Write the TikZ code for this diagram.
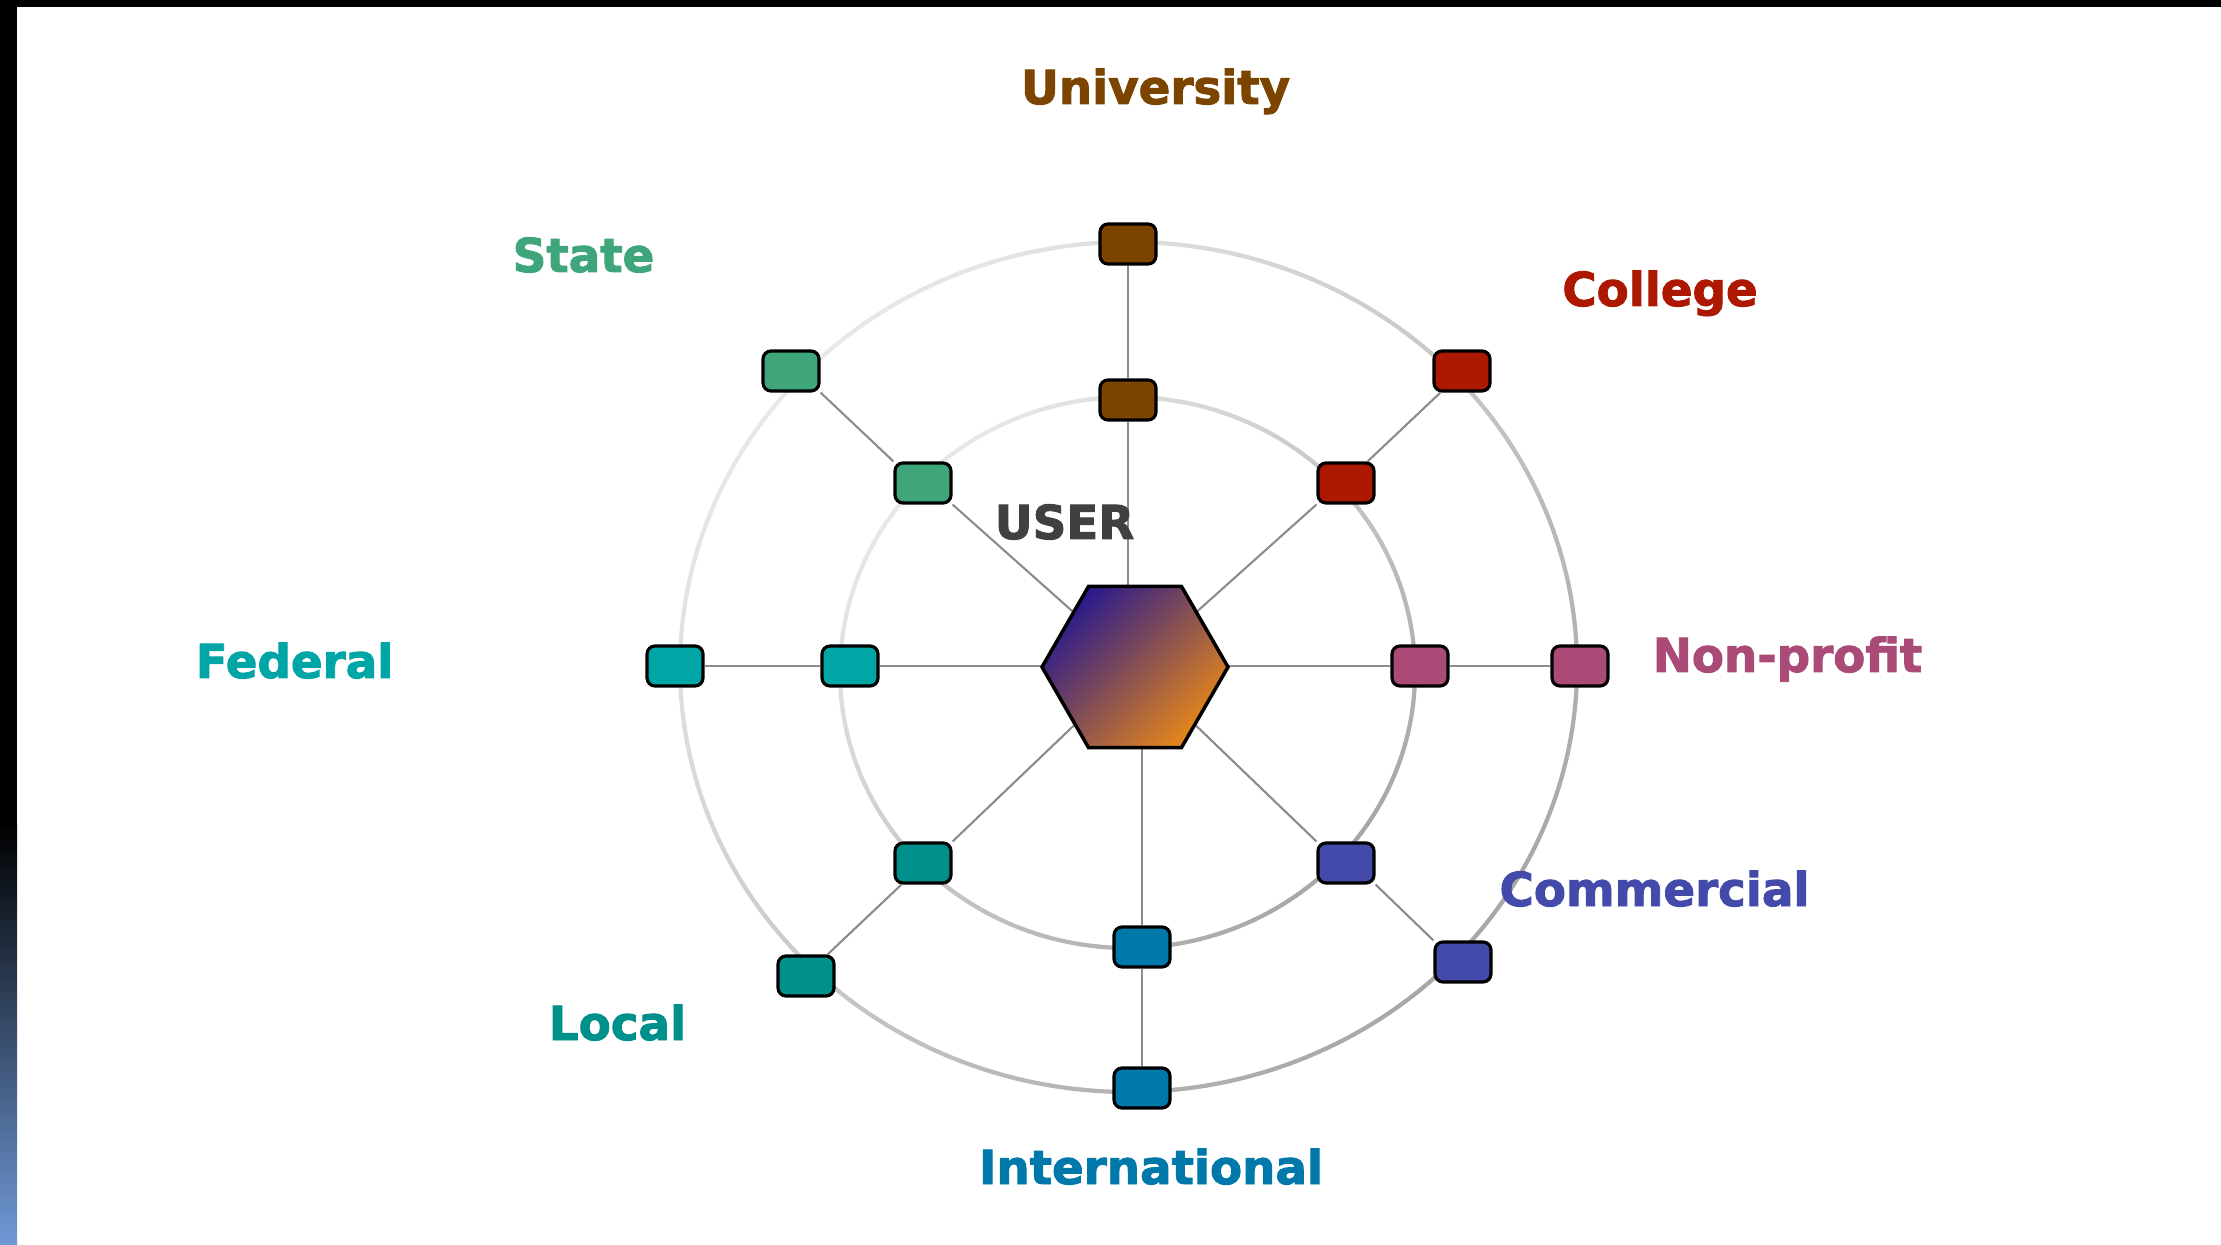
\documentclass[tikz,border=0pt]{standalone}
\usepackage{fontspec}
\setmainfont{DejaVu Sans}[BoldFeatures={FakeBold=2}]
\usetikzlibrary{shapes.geometric,backgrounds}

\definecolor{cUni}{HTML}{7B4500}
\definecolor{cCollege}{HTML}{AD1800}
\definecolor{cNonprofit}{HTML}{AA4A76}
\definecolor{cCommercial}{HTML}{434AAA}
\definecolor{cInter}{HTML}{0078AA}
\definecolor{cLocal}{HTML}{00908C}
\definecolor{cFederal}{HTML}{00A6A6}
\definecolor{cState}{HTML}{3EA67A}
\definecolor{cUser}{HTML}{404040}
\definecolor{spokegrey}{HTML}{8C8C8C}
\definecolor{ringlight}{HTML}{E8E8E8}
\definecolor{ringdark}{HTML}{A8A8A8}
\definecolor{hubtop}{HTML}{2A1A8C}
\definecolor{hubbottom}{HTML}{E5861A}
\definecolor{bandblue}{HTML}{7098D6}

\begin{document}
\begin{tikzpicture}[
	box/.style={draw=black,line width=0.9pt,rounded corners=0.8mm,minimum width=5.6mm,minimum height=4mm,inner sep=0pt},
	hubshape/.style={regular polygon,regular polygon sides=6,minimum size=18.6mm,inner sep=0pt,draw=black,line width=1pt,top color=hubtop,bottom color=hubbottom,shading angle=45},
	lbl/.style={font=\bfseries\fontsize{13.3}{16}\selectfont,anchor=base},
	spoke/.style={draw=spokegrey,line width=0.6pt},
	ring/.style={line width=1.2pt,line cap=round}]
	\useasboundingbox (0,0) rectangle (22.21,12.44);
	% frame of the slide
	\fill[black] (0,12.37) rectangle (22.21,12.44);
	\fill[black] (0,0) rectangle (0.17,12.44);
	\shade[top color=black,bottom color=bandblue] (0,0) rectangle (0.17,4.2);

	% hub
	\node[hubshape] (hub) at (11.35,5.77) {};

	% boxes: inner ring, outer ring
	\node[box,fill=cUni] (ui) at (11.28,8.44) {};
	\node[box,fill=cUni] (uo) at (11.28,10.00) {};
	\node[box,fill=cCollege] (ci) at (13.46,7.61) {};
	\node[box,fill=cCollege] (co) at (14.62,8.73) {};
	\node[box,fill=cNonprofit] (ni) at (14.20,5.78) {};
	\node[box,fill=cNonprofit] (no) at (15.80,5.78) {};
	\node[box,fill=cCommercial] (mi) at (13.46,3.81) {};
	\node[box,fill=cCommercial] (mo) at (14.63,2.82) {};
	\node[box,fill=cInter] (ii) at (11.42,2.97) {};
	\node[box,fill=cInter] (io) at (11.42,1.56) {};
	\node[box,fill=cLocal] (li) at (9.23,3.81) {};
	\node[box,fill=cLocal] (lo) at (8.06,2.68) {};
	\node[box,fill=cFederal] (fi) at (8.50,5.78) {};
	\node[box,fill=cFederal] (fo) at (6.75,5.78) {};
	\node[box,fill=cState] (si) at (9.23,7.61) {};
	\node[box,fill=cState] (so) at (7.91,8.73) {};

	% labels
	\node[lbl,cUni] (lblUni) at (11.555,11.40) {University};
	\node[lbl,cCollege] (lblCollege) at (16.60,9.38) {College};
	\node[lbl,cNonprofit] (lblNonprofit) at (17.875,5.72) {Non-profit};
	\node[lbl,cCommercial] (lblCommercial) at (16.545,3.38) {Commercial};
	\node[lbl,cInter] (lblInter) at (11.51,0.60) {International};
	\node[lbl,cLocal] (lblLocal) at (6.175,2.04) {Local};
	\node[lbl,cFederal] (lblFederal) at (2.945,5.66) {Federal};
	\node[lbl,cState] (lblState) at (5.835,9.72) {State};
	\node[lbl,cUser] (lblUser) at (10.645,7.05) {USER};

	\begin{scope}[on background layer]
	\fill[white] (0.17,0) rectangle (22.21,12.37);
	% rings, light at top left and darker at bottom right
	\foreach \rx/\ry/\cx/\cy in {4.485/4.25/11.285/5.77,2.875/2.755/11.275/5.715}
	\foreach \a in {0,4,...,356}{
		\pgfmathsetmacro{\t}{50-50*cos(\a-135)}
		\draw[ring,draw=ringdark!\t!ringlight] ({\cx+\rx*cos(\a)},{\cy+\ry*sin(\a)}) arc[start angle=\a,delta angle=4,x radius=\rx,y radius=\ry];
	}
	% spokes
	\draw[spoke] (uo) -- (ui);
	\draw[spoke] (ui) -- (ui |- hub);
	\draw[spoke] (io) -- (ii);
	\draw[spoke] (ii) -- (ii |- hub);
	\draw[spoke] (fo) -- (fi);
	\draw[spoke] (fi) -- (fi -| hub);
	\draw[spoke] (no) -- (ni);
	\draw[spoke] (ni) -- (ni -| hub);
	\draw[spoke] (so.south east) -- (si.north west);
	\draw[spoke] (si.south east) -- (hub);
	\draw[spoke] (co.225) -- (ci.45);
	\draw[spoke] (ci.south west) -- (hub);
	\draw[spoke] (mo.north west) -- (mi.south east);
	\draw[spoke] (mi.north west) -- (hub);
	\draw[spoke] (lo.45) -- (li.225);
	\draw[spoke] (li.north east) -- (hub);
	\end{scope}
\end{tikzpicture}
\end{document}
